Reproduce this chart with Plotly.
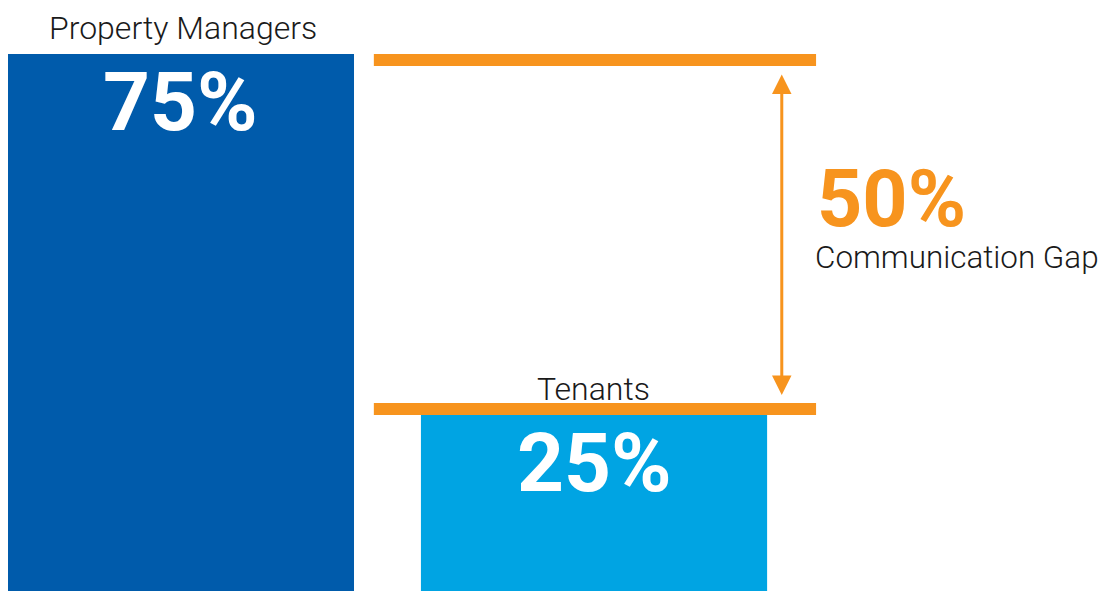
import plotly.graph_objects as go

categories = ["Property Managers", "Tenants"]
values = [75, 25]
value_labels = ["75%", "25%"]
gap_value = values[0] - values[1]
gap_label = f"{gap_value}%"
gap_caption = "Communication Gap"

bar_colors = ["#005BAB", "#00A4E3"]
orange = "#F7941E"
text_dark = "#1a1a1a"

xpos = list(range(len(categories)))

fig = go.Figure()
fig.add_trace(go.Bar(
    x=xpos, y=values, width=0.838,
    marker=dict(color=bar_colors, line=dict(width=0)),
    hoverinfo="skip",
))

# orange reference lines at the top of each bar
line_x0, line_x1 = 0.467, 1.5375
fig.add_shape(type="rect", xref="x", yref="y", x0=line_x0, x1=line_x1,
              ysizemode="pixel", yanchor=values[0], y0=0, y1=-12,
              fillcolor=orange, line=dict(width=0), layer="above")
fig.add_shape(type="rect", xref="x", yref="y", x0=line_x0, x1=line_x1,
              ysizemode="pixel", yanchor=values[1], y0=0, y1=12,
              fillcolor=orange, line=dict(width=0), layer="above")

# double-headed arrow
arrow_x = 1.4545
fig.add_annotation(x=arrow_x, y=values[1], ax=arrow_x, ay=values[0],
                   xref="x", yref="y", axref="x", ayref="y",
                   text="", showarrow=True, arrowhead=2, arrowside="end+start",
                   arrowsize=1.3, arrowwidth=3, arrowcolor=orange,
                   standoff=20, startstandoff=19)

font_fam = "Roboto, sans-serif"

# category labels
fig.add_annotation(x=xpos[0], y=values[0], text=categories[0], showarrow=False,
                   xref="x", yref="y", yanchor="bottom", yshift=5, xshift=2,
                   font=dict(family=font_fam, size=32, weight=300, color=text_dark))
fig.add_annotation(x=xpos[1], y=values[1], text=categories[1], showarrow=False,
                   xref="x", yref="y", yanchor="bottom", yshift=5, xshift=-1,
                   font=dict(family=font_fam, size=32, weight=300, color=text_dark))

# value labels inside bars
for xi, v, lab in zip(xpos, values, value_labels):
    fig.add_annotation(x=xi, y=v, text=lab, showarrow=False,
                       xref="x", yref="y", yanchor="top", yshift=2,
                       font=dict(family=font_fam, size=82, weight=700, color="white"))

# gap labels
mid = (values[0] + values[1]) / 2
fig.add_annotation(x=1.54, y=mid, text=gap_label, showarrow=False,
                   xref="x", yref="y", xanchor="left", yanchor="bottom",
                   yshift=-13, xshift=-2,
                   font=dict(family=font_fam, size=79, weight=700, color=orange))
fig.add_annotation(x=1.54, y=mid, text=gap_caption, showarrow=False,
                   xref="x", yref="y", xanchor="left", yanchor="top",
                   yshift=-3, xshift=-4,
                   font=dict(family=font_fam, size=31.4, weight=300, color=text_dark))

fig.update_layout(
    width=1110, height=591,
    margin=dict(l=0, r=0, t=0, b=0),
    paper_bgcolor="white", plot_bgcolor="white",
    showlegend=False,
    xaxis=dict(range=[-0.4186, 2.2684], visible=False, fixedrange=True),
    yaxis=dict(range=[-0.49, 81.37], visible=False, fixedrange=True),
)

fig.write_html("out.html")
